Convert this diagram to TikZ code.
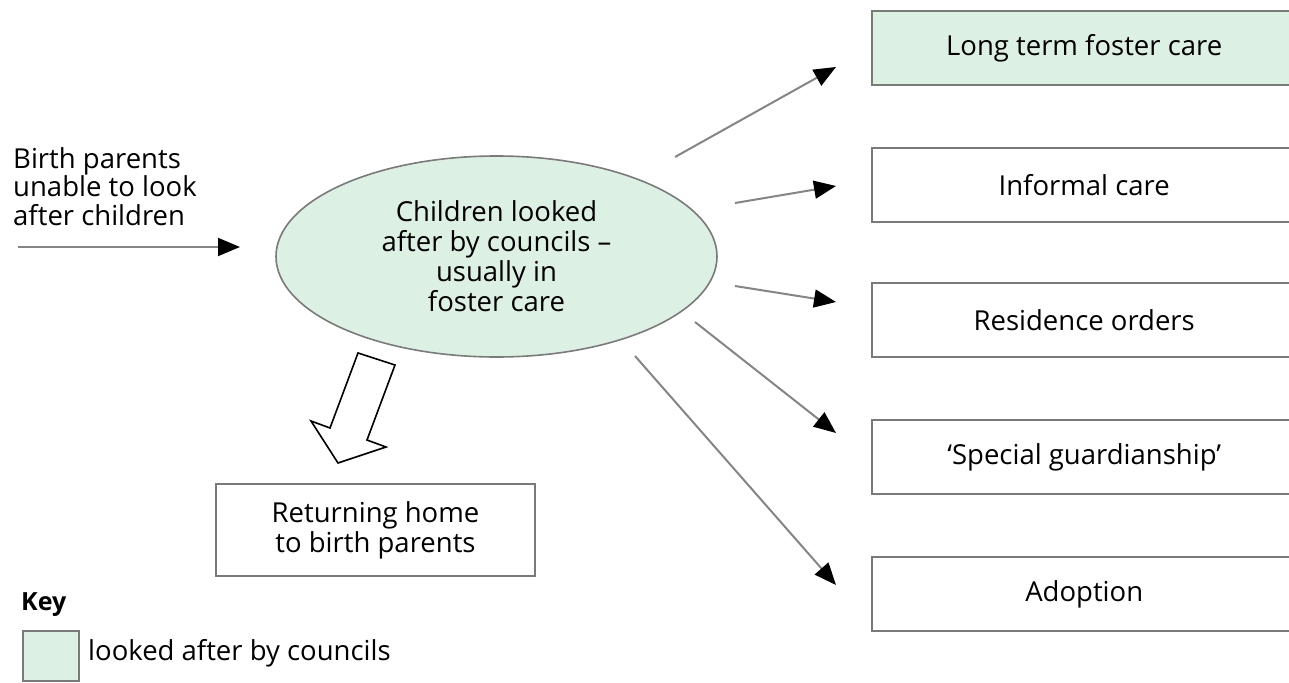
\documentclass[tikz,border=0pt]{standalone}
\usepackage{fontspec}
\setmainfont{Open Sans}
\usetikzlibrary{arrows.meta,shapes.geometric,backgrounds}
\definecolor{lagreen}{HTML}{DDF0E4}
\definecolor{lineg}{HTML}{858585}
\definecolor{boxg}{HTML}{7A7A7A}
\tikzset{
  txt/.style={font=\fontsize{27.5}{30}\selectfont},
  optbox/.style={minimum width=424pt, minimum height=74pt, anchor=north west, inner sep=0pt, txt},
  boxline/.style={draw=boxg, line width=2pt},
  conn/.style={draw=lineg, line width=2pt, -{Triangle[length=22pt,width=18pt,color=black]}},
}
\begin{document}
\begin{tikzpicture}[x=1pt,y=-1pt]
\useasboundingbox (0,0) rectangle (1289,682);
\clip (0,0) rectangle (1289,682);
% left text and arrow
\node[txt, anchor=north west, align=left, inner sep=0pt, font=\fontsize{27.5}{28.5}\selectfont] (birth) at (13,147) {Birth parents\\unable to look\\after children};
\coordinate (bs) at (18,247);
\coordinate (bt) at (240,247);
% central ellipse
\node[ellipse, draw=boxg, line width=1.6pt, fill=lagreen, minimum width=441pt, minimum height=201pt, inner sep=0pt, align=center, txt] (ell) at (496.5,256.5) {Children looked\\after by councils --\\usually in\\foster care\hspace*{0pt}};
\draw[conn] (bs) -- (bt);
% right boxes (open on the right, running off the page)
\node[optbox] (ltfc) at (872,11) {Long term foster care};
\node[optbox] (inf) at (872,148) {Informal care};
\node[optbox] (res) at (872,283) {Residence orders};
\node[optbox] (spg) at (872,420) {`Special guardianship'};
\node[optbox] (ado) at (872,557) {Adoption};
\begin{scope}[on background layer]
\fill[lagreen] (ltfc.south west) rectangle ([xshift=60pt]ltfc.north east);
\foreach \b in {ltfc,inf,res,spg,ado}{
  \draw[boxline] ([xshift=60pt]\b.north east) -- (\b.north west) -- (\b.south west) -- ([xshift=60pt]\b.south east);
}
\end{scope}
% arrow coordinates
\coordinate (s1) at (675,157); \coordinate (t1) at (836,67);
\coordinate (s2) at (735,203); \coordinate (t2) at (836,186);
\coordinate (s3) at (735,286); \coordinate (t3) at (836,302);
\coordinate (s4) at (695,322); \coordinate (t4) at (836,433);
\coordinate (s5) at (635,356); \coordinate (t5) at (836,585);
\draw[conn] (s1) -- (t1);
\draw[conn] (s2) -- (t2);
\draw[conn] (s3) -- (t3);
\draw[conn] (s4) -- (t4);
\draw[conn] (s5) -- (t5);
% returning home
\node[boxline, minimum width=319pt, minimum height=92pt, anchor=north west, inner sep=0pt, align=center, txt] (ret) at (215,483) {Returning home\\to birth parents};
% hollow arrow
\draw[black, line width=1.6pt, fill=white, line join=miter] (358,353) -- (395,365) -- (367,440) -- (386,447) -- (338,463) -- (311,421) -- (330,428) -- cycle;
% key
\node[anchor=west, inner sep=0pt, font=\fontsize{25}{28}\selectfont\bfseries] (key) at (21,605) {Key};
\node[boxline, fill=lagreen, minimum width=56pt, minimum height=50pt, anchor=north west, inner sep=0pt] (keybox) at (22,630) {};
\node[txt, anchor=west, inner sep=0pt] (keytxt) at (88,653) {looked after by councils};
\end{tikzpicture}
\end{document}
